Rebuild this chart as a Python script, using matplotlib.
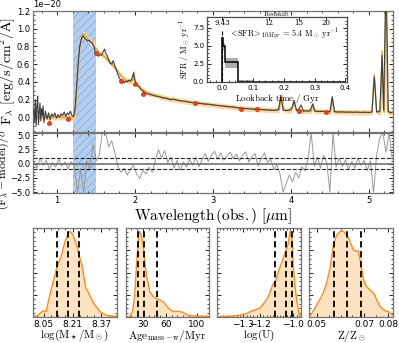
import numpy as np
import matplotlib.pyplot as plt
from matplotlib.ticker import AutoMinorLocator

plt.rcParams['mathtext.fontset'] = 'cm'
plt.rcParams['font.family'] = 'DejaVu Sans'

# observed spectrum (wavelength [um], flux [1e-20 erg/s/cm2/A])
obs = [(0.70, 0.08), (0.71, -0.05), (0.72, 0.20), (0.73, -0.10), (0.74, 0.12), (0.75, 0.24),
       (0.76, -0.08), (0.77, 0.05), (0.78, 0.16), (0.79, -0.04), (0.80, 0.10), (0.81, 0.02),
       (0.82, 0.13), (0.83, -0.06), (0.85, 0.07), (0.87, -0.02), (0.89, 0.05), (0.91, -0.03),
       (0.93, 0.04), (0.95, 0.01), (0.97, 0.05), (0.99, -0.01), (1.01, 0.03), (1.03, 0.00),
       (1.05, 0.04), (1.07, 0.02), (1.09, 0.06), (1.11, 0.01), (1.13, 0.05), (1.15, 0.03),
       (1.17, 0.07), (1.19, 0.02), (1.21, 0.01), (1.23, 0.10), (1.25, 0.35), (1.27, 0.62),
       (1.29, 0.80), (1.31, 0.88), (1.33, 0.92), (1.35, 0.90), (1.37, 0.88), (1.39, 0.86),
       (1.41, 0.87), (1.43, 0.85), (1.45, 0.84), (1.47, 0.80), (1.49, 0.74), (1.51, 0.70),
       (1.53, 0.69), (1.55, 0.71), (1.57, 0.70), (1.59, 0.74), (1.61, 0.77), (1.62, 0.73),
       (1.64, 0.70), (1.66, 0.65), (1.68, 0.61), (1.70, 0.60), (1.72, 0.64), (1.74, 0.58),
       (1.76, 0.54), (1.78, 0.48), (1.80, 0.44), (1.82, 0.42), (1.84, 0.41), (1.86, 0.39),
       (1.88, 0.41), (1.90, 0.40), (1.92, 0.42), (1.94, 0.41), (1.96, 0.44), (1.98, 0.50),
       (2.00, 0.41), (2.02, 0.37), (2.05, 0.35), (2.08, 0.31), (2.11, 0.29), (2.14, 0.27),
       (2.18, 0.26), (2.22, 0.25), (2.26, 0.24), (2.30, 0.235), (2.35, 0.22), (2.40, 0.215),
       (2.45, 0.20), (2.50, 0.205), (2.55, 0.19), (2.60, 0.185), (2.65, 0.18), (2.70, 0.17),
       (2.75, 0.165), (2.80, 0.16), (2.85, 0.155), (2.90, 0.15), (2.95, 0.148), (3.00, 0.14),
       (3.05, 0.135), (3.10, 0.13), (3.15, 0.125), (3.20, 0.12), (3.25, 0.118), (3.30, 0.11),
       (3.35, 0.105), (3.40, 0.10), (3.45, 0.098), (3.50, 0.095), (3.55, 0.09), (3.60, 0.09),
       (3.65, 0.085), (3.70, 0.082), (3.75, 0.08), (3.80, 0.078), (3.84, 0.09), (3.87, 0.24),
       (3.90, 0.08), (3.94, 0.075), (3.98, 0.08), (4.02, 0.12), (4.04, 0.19), (4.07, 0.08),
       (4.10, 0.09), (4.13, 0.14), (4.16, 0.07), (4.20, 0.075), (4.24, 0.07), (4.28, 0.15),
       (4.31, 0.07), (4.35, 0.065), (4.40, 0.068), (4.45, 0.062), (4.50, 0.065), (4.53, 0.23),
       (4.56, 0.065), (4.60, 0.06), (4.65, 0.062), (4.70, 0.058), (4.75, 0.06), (4.80, 0.057),
       (4.85, 0.06), (4.90, 0.055), (4.95, 0.058), (5.00, 0.055), (5.04, 0.06), (5.07, 0.46),
       (5.10, 0.06), (5.14, 0.07), (5.17, 0.70), (5.19, 0.08), (5.22, 1.60), (5.25, 0.07),
       (5.28, 0.05), (5.30, 0.06)]

model_wave = [0.70, 1.21, 1.23, 1.25, 1.27, 1.29, 1.31, 1.33, 1.35, 1.38, 1.42, 1.46, 1.50, 1.55,
              1.60, 1.65, 1.70, 1.75, 1.80, 1.85, 1.90, 1.95, 1.97, 1.985, 2.00, 2.03, 2.08, 2.15,
              2.25, 2.4, 2.6, 2.8, 3.0, 3.2, 3.4, 3.6, 3.8, 3.85, 3.88, 3.91, 4.01, 4.04, 4.07,
              4.26, 4.28, 4.30, 4.51, 4.53, 4.55, 5.04, 5.07, 5.10, 5.15, 5.17, 5.19, 5.20, 5.22,
              5.24, 5.30]
model_flux = [0.0, 0.0, 0.05, 0.30, 0.60, 0.80, 0.90, 0.94, 0.94, 0.90, 0.86, 0.82, 0.77, 0.72,
              0.69, 0.65, 0.60, 0.55, 0.49, 0.44, 0.41, 0.40, 0.42, 0.51, 0.40, 0.36, 0.32, 0.28,
              0.25, 0.215, 0.185, 0.16, 0.14, 0.12, 0.10, 0.09, 0.08, 0.085, 0.25, 0.08, 0.08,
              0.19, 0.075, 0.07, 0.15, 0.07, 0.065, 0.23, 0.06, 0.055, 0.48, 0.06, 0.06, 0.75,
              0.06, 0.06, 1.8, 0.06, 0.05]

phot_wave = [0.899, 1.143, 1.498, 1.814, 1.998, 2.096, 2.767, 3.353, 3.566, 4.104, 4.446]
phot_flux = [-0.06, -0.02, 0.725, 0.415, 0.377, 0.264, 0.165, 0.094, 0.094, 0.071, 0.056]

# residuals (F - model)/sigma, sampled every 0.04 um from 0.70 to 5.30
resid = [0.5, -0.8, 1.0, -0.3, 0.6, -1.0, 0.2, -0.6, 0.8, -0.4,
         0.3, -0.9, 0.4, -0.5, -5.0, -1.0, -5.0, 0.5, -1.2, 3.5,
         0.5, 1.5, 5.5, 5.5, 3.0, 4.0, 2.0, -0.5, -1.5, -0.8,
         -2.0, -1.0, -0.3, -1.8, -2.6, -1.2, -1.8, -0.6, -1.5, 0.5,
         2.5, 1.0, 2.3, 0.2, 1.2, -0.8, 0.6, -1.2, 0.3, -0.6,
         0.8, -0.3, 1.2, -0.5, 0.7, 1.8, 0.4, 1.5, 2.2, 0.8,
         1.9, 0.6, 1.4, 2.0, 0.9, 1.7, 0.5, 1.5, 2.1, 0.3,
         1.2, 1.8, -0.4, 1.0, 1.9, 0.2, 0.8, -1.0, -0.2, -1.8,
         -5.0, -3.5, -2.0, -3.2, -1.5, -2.5, -0.5, -1.2, 0.8, 5.5,
         -0.5, 1.2, -0.8, 1.5, 0.2, -5.0, 5.5, -0.6, 1.0, -0.5,
         0.7, -1.0, 0.4, -0.7, 0.9, -0.3, 0.6, -1.2, 0.5, -5.0,
         1.5, 4.5, 5.5, 2.0, 5.5, 0.8]

# star formation history
sfh_edges = [0.0, 0.003, 0.01, 0.05, 0.1, 0.4]
sfh_med = [6.1, 5.0, 2.7, 0.0, 0.0]
sfh_lo = [5.6, 4.4, 1.9, 0.0, 0.0]
sfh_hi = [6.3, 5.4, 3.3, 0.3, 0.02]
z_ticks_pos = [0.0, 0.151, 0.248, 0.336]
z_ticks_lab = ['9.43', '12', '15', '20']

# posteriors
mass_x = [7.99, 8.018, 8.046, 8.062, 8.084, 8.103, 8.123, 8.146, 8.168, 8.192, 8.21, 8.234,
          8.251, 8.262, 8.283, 8.297, 8.325, 8.362, 8.396, 8.429, 8.457]
mass_y = [0.005, 0.02, 0.07, 0.06, 0.25, 0.40, 0.56, 0.68, 0.85, 0.965, 0.93, 0.80,
          0.66, 0.58, 0.33, 0.28, 0.16, 0.06, 0.02, 0.01, 0.005]
age_x = [8, 13.2, 17.1, 19.7, 21.9, 24.9, 27.5, 30.5, 32.7, 34.9, 39.2, 43.5, 48.3, 52.2,
         56.5, 61.3, 65.2, 70.4, 75.6, 80.9, 88.7, 97.8, 116]
age_y = [0.0, 0.005, 0.08, 0.30, 0.61, 0.965, 0.93, 0.81, 0.60, 0.45, 0.28, 0.23, 0.20, 0.19,
         0.17, 0.12, 0.08, 0.06, 0.065, 0.055, 0.02, 0.01, 0.005]
logu_x = [-1.458, -1.362, -1.29, -1.26, -1.2, -1.17, -1.15, -1.12, -1.11, -1.09, -1.068, -1.05,
          -1.03, -1.02, -1.006, -1.0, -0.99, -0.98, -0.964, -0.954]
logu_y = [0.0, 0.01, 0.03, 0.06, 0.10, 0.17, 0.23, 0.38, 0.38, 0.51, 0.62, 0.72,
          0.83, 0.965, 0.85, 0.56, 0.35, 0.19, 0.02, 0.0]
met_x = [0.0468, 0.0472, 0.0493, 0.0514, 0.0528, 0.0542, 0.0556, 0.057, 0.0584, 0.0598, 0.0612,
         0.0633, 0.0654, 0.0665, 0.0675, 0.0682, 0.0696, 0.0707, 0.0724, 0.0738, 0.0766,
         0.0787, 0.08, 0.082]
met_y = [0.005, 0.01, 0.10, 0.20, 0.27, 0.38, 0.55, 0.81, 0.92, 0.96, 0.965,
         0.89, 0.755, 0.74, 0.74, 0.64, 0.42, 0.35, 0.30, 0.27, 0.115,
         0.07, 0.06, 0.02]

post_x = [mass_x, age_x, logu_x, met_x]
post_y = [mass_y, age_y, logu_y, met_y]
post_q = [[8.121, 8.185, 8.246], [23.4, 31.4, 48.3], [-1.109, -1.043, -1.009], [0.0573, 0.0629, 0.0686]]
post_lim = [(7.99, 8.457), (8, 116), (-1.458, -0.954), (0.0468, 0.082)]
post_ticks = [[8.05, 8.21, 8.37], [30, 60, 100], [-1.3, -1.2, -1.0], [0.05, 0.07, 0.08]]
post_ticklab = [['8.05', '8.21', '8.37'], ['30', '60', '100'], ['\u22121.3', '\u22121.2', '\u22121.0'],
                ['0.05', '0.07', '0.08']]
post_labels = [r'$\mathrm{log(M_\star/M_\odot)}$', r'$\mathrm{Age_{mass-w}/Myr}$',
               r'$\mathrm{log(U)}$', r'$\mathrm{Z/Z_\odot}$']
panel_x = [(33, 117), (126, 209), (217, 301), (309, 393)]

W, H = 399., 343.
fig = plt.figure(figsize=(3.99, 3.43), dpi=100)


def style(ax, size=6):
    ax.tick_params(which='both', direction='in', top=True, right=True, labelsize=size, pad=2)
    ax.tick_params(which='major', length=3, width=0.6)
    ax.tick_params(which='minor', length=1.5, width=0.5)
    ax.xaxis.set_minor_locator(AutoMinorLocator())
    ax.yaxis.set_minor_locator(AutoMinorLocator())
    for s in ax.spines.values():
        s.set_color('0.45')
        s.set_linewidth(0.9)


# spectrum panel
ax1 = fig.add_axes([33 / W, 1 - 131.5 / H, 360 / W, 120.5 / H])
ow = np.array([p[0] for p in obs])
of = np.array([p[1] for p in obs]) * 1e-20
mw = np.array(model_wave)
mf = np.array(model_flux) * 1e-20
plt.rcParams['hatch.linewidth'] = 0.5
ax1.axvspan(1.2, 1.5, facecolor='#b3cdee', edgecolor='#7fa8dc', hatch='////', lw=0)
ax1.fill_between(mw, mf - 0.03e-20, mf + 0.03e-20, color='#fbd9a6', lw=0, zorder=2)
ax1.plot(mw, mf, color='#d9a441', lw=1.0, zorder=3)
ax1.plot(ow, of, color='0.25', lw=0.8, zorder=4)
ax1.scatter(phot_wave, np.array(phot_flux) * 1e-20, s=9, color='#e8401c', edgecolor='#b5300f',
            linewidth=0.4, zorder=6)
ax1.set_xlim(0.69, 5.31)
ax1.set_ylim(-0.16e-20, 1.2e-20)
ax1.set_yticks(np.array([0.0, 0.2, 0.4, 0.6, 0.8, 1.0, 1.2]) * 1e-20)
style(ax1)
ax1.tick_params(labelbottom=False)
ax1.yaxis.get_offset_text().set_fontsize(6)
ax1.set_ylabel(r'$\mathrm{F_\lambda\ [erg/s/cm^2/\AA]}$', fontsize=10)
ax1.yaxis.set_label_coords(-0.044, 0.5)

# residual panel
ax2 = fig.add_axes([33 / W, 1 - 193.3 / H, 360 / W, 60 / H], sharex=ax1)
rw = np.linspace(0.70, 5.30, len(resid))
ax2.axvspan(1.2, 1.5, facecolor='#b3cdee', edgecolor='#7fa8dc', hatch='////', lw=0)
ax2.plot(rw, resid, color='0.6', lw=0.7)
ax2.axhline(0, color='0.4', lw=1.1)
ax2.axhline(1, color='0.15', lw=0.8, ls='--')
ax2.axhline(-1, color='0.15', lw=0.8, ls='--')
ax2.set_ylim(-5.2, 5.35)
ax2.set_yticks([-5, -2.5, 0, 2.5, 5])
ax2.set_xticks([1, 2, 3, 4, 5])
style(ax2)
ax2.set_xlim(0.69, 5.31)
ax2.set_xlabel(r'$\mathrm{Wavelength\,(obs.)\ [\mu m]}$', fontsize=11, labelpad=1)
ax2.set_ylabel(r'$\mathrm{(F_\lambda - model)/\sigma}$', fontsize=8.5)
ax2.yaxis.set_label_coords(-0.061, 0.4)

# SFH inset
ins = fig.add_axes([207 / W, 1 - 82 / H, 140 / W, 65 / H])
ins.fill_between(sfh_edges[:-1] + [sfh_edges[-1]], sfh_lo + [sfh_lo[-1]], sfh_hi + [sfh_hi[-1]],
                 step='post', color='0.6', lw=0, alpha=0.8)
ins.stairs(sfh_med, sfh_edges, color='k', lw=1.1)
ins.vlines(0, 0, 7.0, colors='k', linestyles='--', lw=0.8)
ins.text(0.022, 6.6, r'$<\!\mathrm{SFR}\!>_{10Myr}\,=\,5.4\ \mathrm{M_\odot\ yr^{-1}}$',
         fontsize=6, va='center')
ins.set_xlim(-0.05, 0.405)
ins.set_ylim(0, 9)
ins.set_yticks([0, 2.5, 5, 7.5])
style(ins, 5)
ins.tick_params(top=False)
ins.set_xlabel(r'$\mathrm{Lookback\ time\ /\ Gyr}$', fontsize=6.5, labelpad=1)
ins.set_ylabel(r'$\mathrm{SFR\ /\ M_\odot\ yr^{-1}}$', fontsize=6, labelpad=1)
tw = ins.twiny()
tw.set_xlim(ins.get_xlim())
tw.set_xticks(z_ticks_pos)
tw.set_xticklabels(z_ticks_lab, family='serif')
tw.tick_params(axis='x', direction='in', labelsize=5, pad=-7, length=2.5, width=0.6)
tw.set_xlabel(r'$\mathrm{Redshift}$', fontsize=5, labelpad=1)
for s in tw.spines.values():
    s.set_color('0.3')

# posterior panels
for i in range(4):
    l, r = panel_x[i]
    ax = fig.add_axes([l / W, 26 / H, (r - l) / W, 89 / H])
    ax.fill_between(post_x[i], 0, post_y[i], color='#fde3c1', lw=0)
    ax.plot(post_x[i], post_y[i], color='#ff8c1a', lw=1.0)
    for q in post_q[i]:
        ax.axvline(q, color='k', lw=1.3, ls=(0, (3.5, 2)))
    ax.set_xlim(*post_lim[i])
    ax.set_ylim(0, 1)
    ax.set_xticks(post_ticks[i])
    ax.set_xticklabels(post_ticklab[i])
    style(ax, 6.5)
    ax.tick_params(labelleft=False)
    ax.set_xlabel(post_labels[i], fontsize=8, labelpad=-0.5)

plt.savefig('out.png', dpi=100)
